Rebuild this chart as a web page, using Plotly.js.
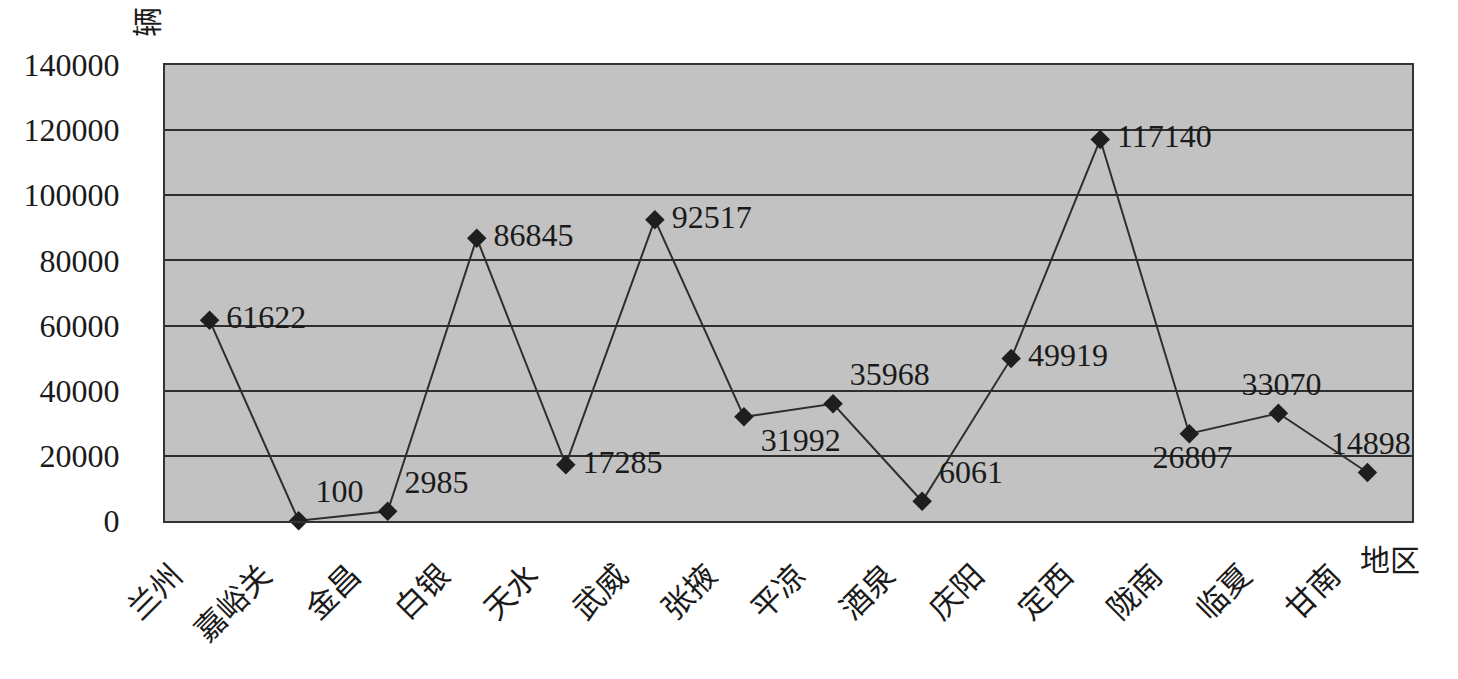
<!DOCTYPE html>
<html>
<head>
<meta charset="utf-8">
<script src="https://cdn.plot.ly/plotly-3.0.1.min.js"></script>
<style>html,body{margin:0;padding:0;background:#fff;}#chart{width:1458px;height:679px;}</style>
</head>
<body>
<div id="chart"></div>
<script>
const regions = ["兰州","嘉峪关","金昌","白银","天水","武威","张掖","平凉","酒泉","庆阳","定西","陇南","临夏","甘南"];
const vehicles = [61622,100,2985,86845,17285,92517,31992,35968,6061,49919,117140,26807,33070,14898];
const labelPositions = ["middle right","top right","top right","middle right","middle right","middle right","bottom right","top right","top right","middle right","middle right","bottom center","top center","top center"];
const yTicks = [0,20000,40000,60000,80000,100000,120000,140000];

const serif = 'Liberation Serif, Times New Roman, DejaVu Serif, serif';
const cjk = 'Noto Sans CJK SC, Liberation Serif, serif';

const trace = {
  x: regions,
  y: vehicles,
  type: 'scatter',
  mode: 'lines+markers+text',
  text: vehicles.map(v => '\u2009' + v),
  textposition: labelPositions,
  textfont: {family: serif, size: 32, color: '#1a1a1a'},
  line: {color: '#2e2e2e', width: 2},
  marker: {symbol: 'diamond', size: 15, color: '#1e1e1e'},
  cliponaxis: false,
  hoverinfo: 'x+y'
};

const layout = {
  width: 1458, height: 679,
  margin: {l: 165, r: 46, t: 65, b: 158},
  paper_bgcolor: '#ffffff',
  plot_bgcolor: '#c2c2c2',
  showlegend: false,
  font: {family: serif, color: '#1a1a1a'},
  xaxis: {
    type: 'category',
    range: [-0.5, 13.5],
    tickangle: -45,
    tickfont: {family: cjk, size: 31, color: '#1a1a1a'},
    ticks: '',
    showgrid: false,
    showline: true, linecolor: '#333', linewidth: 2, mirror: true,
    ticklabelshift: -36,
    ticklabelstandoff: 22,
    zeroline: false
  },
  yaxis: {
    range: [0, 140000],
    tickvals: yTicks,
    ticktext: yTicks.map(String),
    tickfont: {family: serif, size: 32, color: '#1a1a1a'},
    ticks: '',
    showgrid: true, gridcolor: '#2e2e2e', gridwidth: 2,
    showline: true, linecolor: '#333', linewidth: 2, mirror: true,
    zeroline: false,
    ticklabelstandoff: 37
  },
  annotations: [
    {text: '辆', xref: 'paper', yref: 'paper', x: 0, y: 1, xanchor: 'center', yanchor: 'middle',
     xshift: -20, yshift: 43, textangle: -90, showarrow: false,
     font: {family: cjk, size: 30, color: '#1a1a1a'}},
    {text: '地区', xref: 'paper', yref: 'paper', x: 1, y: 0, xanchor: 'center', yanchor: 'middle',
     xshift: -22, yshift: -37, showarrow: false,
     font: {family: cjk, size: 30, color: '#1a1a1a'}}
  ]
};

Plotly.newPlot('chart', [trace], layout, {displayModeBar: false, staticPlot: true});
</script>
</body>
</html>
